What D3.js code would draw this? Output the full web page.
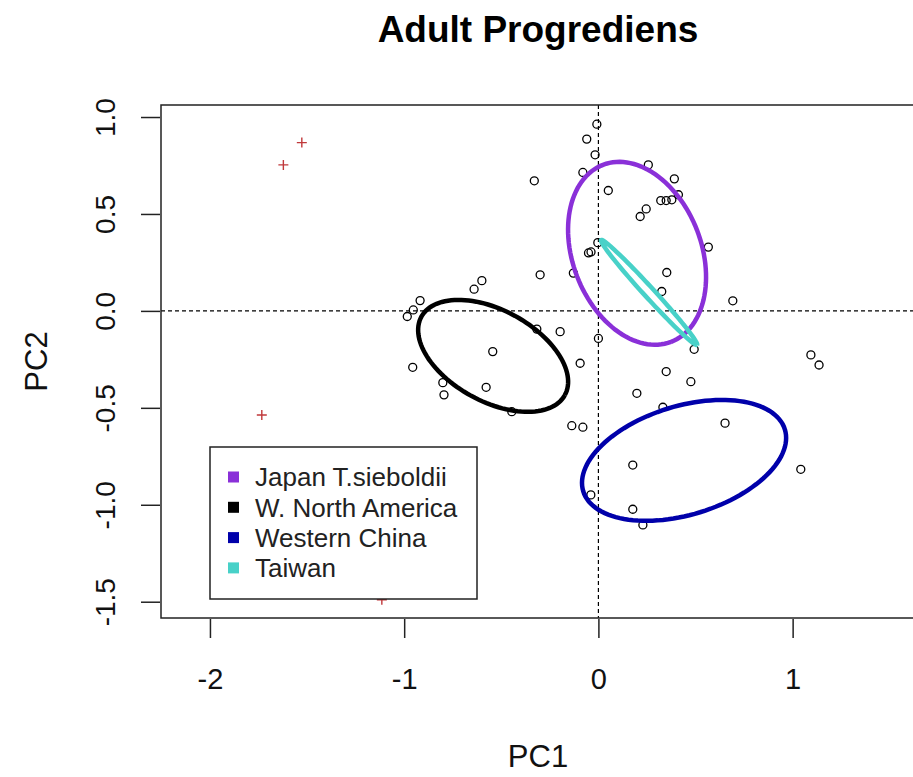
<!DOCTYPE html>
<html>
<head>
<meta charset="utf-8">
<script src="https://cdn.jsdelivr.net/npm/d3@7"></script>
<style>
  body { margin: 0; background: #fff; }
  svg { display: block; font-family: "Liberation Sans", Arial, sans-serif; }
</style>
</head>
<body>
<svg width="913" height="777"></svg>
<script>
// PCA scores (open circles)
var pcX = [-0.008, -0.060, -0.017, -0.080, -0.330, 0.051, 0.257, 0.215, 0.246, -0.003,
           -0.051, -0.038, -0.300, -0.129, -0.600, -0.640, -0.918, -0.953, -0.984, -0.317,
           -0.197, 0.000, 0.391, 0.412, 0.321, 0.349, 0.378, 0.566, 0.352, 0.326,
           0.692, -0.544, -0.956, -0.094, -0.801, -0.795, -0.578, -0.446, -0.137, -0.080,
           0.198, 0.177, -0.039, 0.177, 0.229, 0.493, 0.349, 0.476, 0.332, 1.094,
           1.136, 0.652, 1.042];
var pcY = [0.963, 0.886, 0.805, 0.714, 0.671, 0.621, 0.753, 0.487, 0.526, 0.352,
           0.299, 0.304, 0.186, 0.195, 0.156, 0.112, 0.053, 0.005, -0.029, -0.094,
           -0.107, -0.142, 0.681, 0.599, 0.569, 0.569, 0.573, 0.329, 0.198, 0.100,
           0.052, -0.210, -0.291, -0.270, -0.370, -0.433, -0.394, -0.520, -0.592, -0.600,
           -0.425, -0.795, -0.949, -1.023, -1.104, -0.198, -0.313, -0.365, -0.497, -0.227,
           -0.279, -0.579, -0.817];

// red crosses
var crossX = [-1.527, -1.622, -1.733, -1.115];
var crossY = [0.868, 0.753, -0.537, -1.490];

// group ellipses: centre, semi-axes, angle (degrees)
var groups = ["Japan T.sieboldii", "W. North America", "Western China", "Taiwan"];
var ellCx = [0.199, -0.542, 0.441, 0.261];
var ellCy = [0.297, -0.232, -0.771, 0.095];
var ellA = [0.489, 0.421, 0.543, 0.366];
var ellB = [0.331, 0.235, 0.280, 0.026];
var ellAngle = [-69, -28.7, 17.1, -47.6];

var xTicks = [-2, -1, 0, 1];
var yTicks = [-1.5, -1.0, -0.5, 0.0, 0.5, 1.0];

var svg = d3.select("svg"),
    plotL = 161, plotR = 915, plotT = 105, plotB = 618;

var x = d3.scaleLinear().domain([-2.252, 1.630]).range([plotL, plotR]),
    y = d3.scaleLinear().domain([-1.584, 1.062]).range([plotB, plotT]),
    z = d3.scaleOrdinal().domain(groups).range(["#8a30d8", "#000000", "#0000aa", "#48d1c8"]);

// title
svg.append("text")
    .attr("x", (plotL + plotR) / 2)
    .attr("y", 42)
    .attr("text-anchor", "middle")
    .attr("font-size", "37px")
    .attr("font-weight", "bold")
    .text("Adult Progrediens");

// reference lines at zero
svg.append("line")
    .attr("x1", x(0)).attr("x2", x(0))
    .attr("y1", plotT).attr("y2", plotB)
    .attr("stroke", "#000").attr("stroke-width", 1.2)
    .attr("stroke-dasharray", "4,3");
svg.append("line")
    .attr("x1", plotL).attr("x2", plotR)
    .attr("y1", y(0)).attr("y2", y(0))
    .attr("stroke", "#000").attr("stroke-width", 1.2)
    .attr("stroke-dasharray", "4,3");

// open circles
svg.append("g").selectAll("circle")
    .data(pcX)
    .enter().append("circle")
      .attr("cx", function(d) { return x(d); })
      .attr("cy", function(d, i) { return y(pcY[i]); })
      .attr("r", 4)
      .attr("fill", "none")
      .attr("stroke", "#000")
      .attr("stroke-width", 1.3);

// red plus signs
svg.append("g").selectAll("path")
    .data(crossX)
    .enter().append("path")
      .attr("d", function(d, i) {
        var cx = x(d), cy = y(crossY[i]);
        return "M" + (cx - 5) + "," + cy + "H" + (cx + 5) + "M" + cx + "," + (cy - 5) + "V" + (cy + 5);
      })
      .attr("stroke", "#c0393b")
      .attr("stroke-width", 1.4);

// ellipses, traced in data space then mapped through the scales
var line = d3.line()
    .x(function(d) { return x(d[0]); })
    .y(function(d) { return y(d[1]); });

function ellipsePts(i) {
  var pts = [], t = ellAngle[i] * Math.PI / 180;
  for (var k = 0; k <= 120; k++) {
    var a = k / 120 * 2 * Math.PI,
        u = ellA[i] * Math.cos(a), v = ellB[i] * Math.sin(a);
    pts.push([ellCx[i] + u * Math.cos(t) - v * Math.sin(t),
              ellCy[i] + u * Math.sin(t) + v * Math.cos(t)]);
  }
  return pts;
}

svg.append("g").selectAll("path")
    .data(groups)
    .enter().append("path")
      .attr("d", function(d, i) { return line(ellipsePts(i)); })
      .attr("fill", "none")
      .attr("stroke", function(d) { return z(d); })
      .attr("stroke-width", 4.5);

// frame
svg.append("rect")
    .attr("x", plotL).attr("y", plotT)
    .attr("width", plotR - plotL).attr("height", plotB - plotT)
    .attr("fill", "none").attr("stroke", "#222").attr("stroke-width", 1.5);

// axes
var xAxis = svg.append("g")
    .attr("transform", "translate(0," + (plotB + 1) + ")")
    .call(d3.axisBottom(x).tickValues(xTicks).tickSize(19).tickPadding(30));
xAxis.select(".domain").remove();
xAxis.selectAll("line").attr("stroke", "#222").attr("stroke-width", 1.5);
xAxis.selectAll("text").attr("font-size", "29px").attr("fill", "#111")
    .attr("font-family", null).text(function(d) { return d < 0 ? "-" + Math.abs(d) : d; });

var yAxis = svg.append("g")
    .attr("transform", "translate(" + (plotL - 1) + ",0)")
    .call(d3.axisLeft(y).tickValues(yTicks).tickSize(19));
yAxis.select(".domain").remove();
yAxis.selectAll("line").attr("stroke", "#222").attr("stroke-width", 1.5);
yAxis.selectAll("text")
    .attr("font-size", "28px").attr("fill", "#111").attr("font-family", null)
    .attr("transform", "rotate(-90)")
    .attr("x", 0).attr("y", -45).attr("dy", 0)
    .attr("text-anchor", "middle")
    .text(function(d) { return d < 0 ? "-" + Math.abs(d).toFixed(1) : d.toFixed(1); });

// axis titles
svg.append("text")
    .attr("x", (plotL + plotR) / 2)
    .attr("y", 767)
    .attr("text-anchor", "middle")
    .attr("font-size", "31px")
    .attr("fill", "#111")
    .text("PC1");
svg.append("text")
    .attr("transform", "translate(47," + ((plotT + plotB) / 2) + ") rotate(-90)")
    .attr("text-anchor", "middle")
    .attr("font-size", "31px")
    .attr("fill", "#111")
    .text("PC2");

// legend
var legend = svg.append("g").attr("transform", "translate(210,447)");
legend.append("rect")
    .attr("width", 267).attr("height", 152)
    .attr("fill", "#fff").attr("stroke", "#222").attr("stroke-width", 1.5);
var item = legend.selectAll(".item")
    .data(groups)
    .enter().append("g")
      .attr("class", "item")
      .attr("transform", function(d, i) { return "translate(0," + (30 + i * 30.3) + ")"; });
item.append("rect")
    .attr("x", 18).attr("y", -5.5)
    .attr("width", 11).attr("height", 11)
    .attr("fill", function(d) { return z(d); });
item.append("text")
    .attr("x", 45)
    .attr("dy", "0.36em")
    .attr("font-size", "26px")
    .attr("fill", "#222")
    .text(function(d) { return d; });
</script>
</body>
</html>
